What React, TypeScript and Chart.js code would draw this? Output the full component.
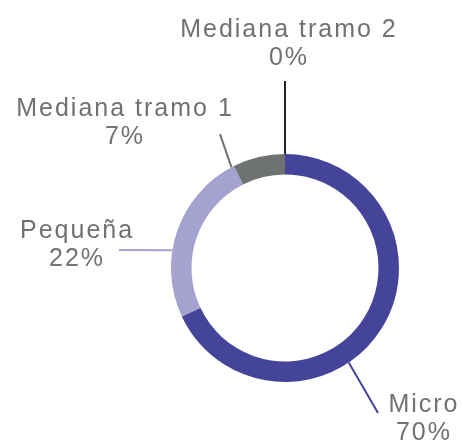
import React, { useEffect, useRef } from "react";
import Chart from "chart.js/auto";

// ---- data ----
const categories = ["Micro", "Pequeña", "Mediana tramo 1", "Mediana tramo 2"];
const sliceValues = [68.0, 24.6, 7.4, 0];
const percentLabels = ["70%", "22%", "7%", "0%"];
const sliceColors = ["#44449a", "#a5a2cf", "#6e7272", "#222222"];

// ---- label layout (relative to chart centre, in units of outer radius) ----
// anchor: angle in degrees clockwise from 12 o'clock on the outer edge
// end: leader line end; text: label centre x and first baseline
const labelLayout = [
  { anchor: 146, end: [0.816, 1.272], text: [1.21, 1.263] },
  { anchor: 279, end: [-1.456, -0.158], text: [-1.833, -0.263] },
  { anchor: 332, end: [-0.57, -1.175], text: [-1.412, -1.33] },
  { anchor: 0, end: [0, -1.64], text: [0.026, -2.026] },
];

const labelPlugin = {
  id: "outerLabels",
  afterDraw(chart: any) {
    const ctx = chart.ctx;
    const meta = chart.getDatasetMeta(0);
    const arc0 = meta.data[0] as any;
    const cx = arc0.x;
    const cy = arc0.y;
    const R = arc0.outerRadius;
    ctx.save();
    labelLayout.forEach((l, i) => {
      const a = (l.anchor * Math.PI) / 180;
      const sx = cx + R * Math.sin(a);
      const sy = cy - R * Math.cos(a);
      const ex = cx + l.end[0] * R;
      const ey = cy + l.end[1] * R;
      ctx.beginPath();
      ctx.strokeStyle = sliceColors[i];
      ctx.lineWidth = 2;
      ctx.moveTo(sx, sy);
      ctx.lineTo(ex, ey);
      ctx.stroke();

      const tx = cx + l.text[0] * R;
      const ty = cy + l.text[1] * R;
      ctx.fillStyle = "#707171";
      ctx.font = '25px "Liberation Sans", Arial, sans-serif';
      (ctx as any).letterSpacing = "2px";
      ctx.textAlign = "center";
      ctx.textBaseline = "alphabetic";
      ctx.fillText(categories[i], tx + 1, ty);
      ctx.fillText(percentLabels[i], tx + 1, ty + 28);
    });
    ctx.restore();
  },
};

export default function App() {
  const ref = useRef<HTMLCanvasElement | null>(null);
  useEffect(() => {
    if (!ref.current) return;
    const chart = new Chart(ref.current, {
      type: "doughnut",
      data: {
        labels: categories,
        datasets: [
          {
            data: sliceValues,
            backgroundColor: sliceColors,
            borderWidth: 0,
          },
        ],
      },
      options: {
        animation: false,
        responsive: false,
        cutout: "82%",
        layout: { padding: { left: 171, right: 64, top: 154, bottom: 59 } },
        plugins: {
          legend: { display: false },
          tooltip: { enabled: false },
        },
      },
      plugins: [labelPlugin],
    });
    return () => chart.destroy();
  }, []);
  return (
    <div style={{ position: "fixed", left: 0, top: 0, width: 463, height: 441, background: "#fff" }}>
      <canvas ref={ref} width={463} height={441} />
    </div>
  );
}
